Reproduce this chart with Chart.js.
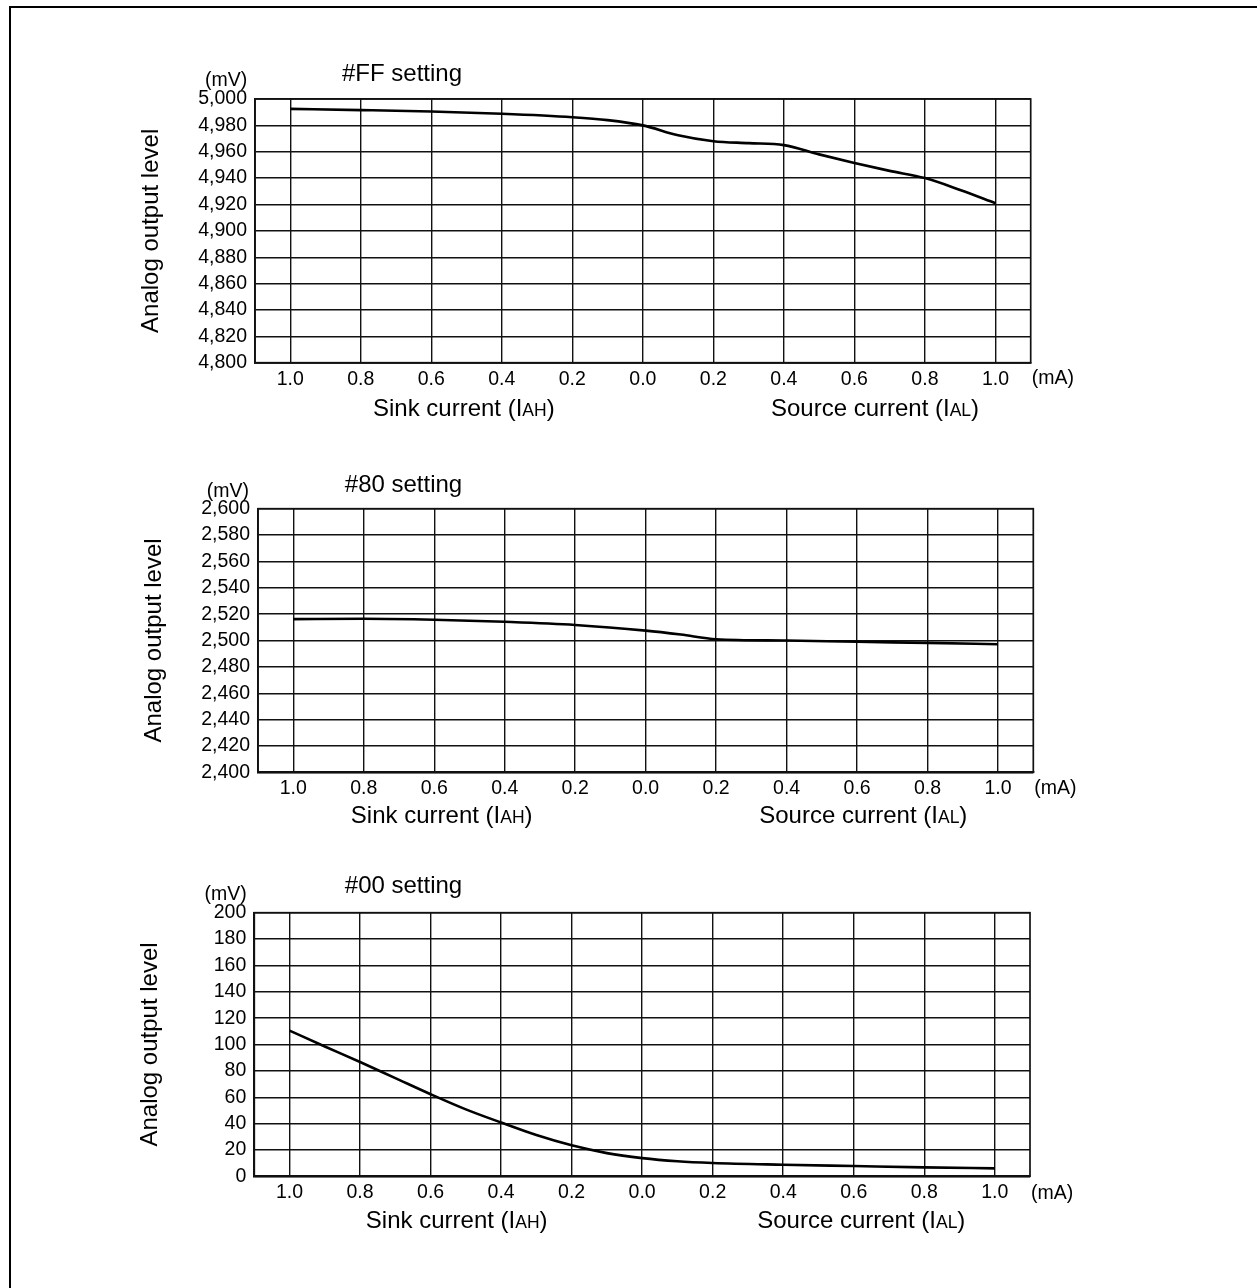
<!DOCTYPE html>
<html>
<head>
<meta charset="utf-8">
<script src="https://cdn.jsdelivr.net/npm/chart.js@4/dist/chart.umd.min.js"></script>
<style>
  html, body { margin:0; padding:0; background:#fff; width:1257px; height:1288px; overflow:hidden; position:relative; }
  #frame { position:absolute; left:9px; top:6px; width:1400px; height:1400px; border-left:2px solid #000; border-top:2px solid #000; box-sizing:border-box; }
  .box { position:absolute; left:0; width:1257px; }
</style>
</head>
<body>
<div id="frame"></div>
<div class="box" style="top:30px;height:420px"><canvas id="c1"></canvas></div>
<div class="box" style="top:440px;height:400px"><canvas id="c2"></canvas></div>
<div class="box" style="top:845px;height:420px"><canvas id="c3"></canvas></div>
<script>
// Current axis: negative = sink current (IAH), positive = source current (IAL), in mA
const xTicks = [-1.0, -0.8, -0.6, -0.4, -0.2, 0.0, 0.2, 0.4, 0.6, 0.8, 1.0];

// #FF setting
const ffCurrent = [-1.0, -0.8, -0.6, -0.4, -0.2, -0.1, 0.0, 0.1, 0.2, 0.3, 0.4, 0.5, 0.6, 0.7, 0.8, 0.9, 1.0];
const ffLevel   = [4992.5, 4991.6, 4990.5, 4988.8, 4986.2, 4984, 4980, 4972.5, 4968, 4966.5, 4965, 4958, 4951.5, 4945.5, 4940, 4931, 4921];
const ffRange   = [4800, 5000];

// #80 setting
const h80Current = [-1.0, -0.8, -0.6, -0.4, -0.2, 0.0, 0.1, 0.2, 0.4, 0.6, 0.8, 1.0];
const h80Level   = [2516.2, 2516.5, 2515.8, 2514.2, 2511.8, 2507.5, 2504.5, 2501, 2500, 2499, 2498.2, 2497.2];
const h80Range   = [2400, 2600];

// #00 setting
const h00Current = [-1.0, -0.9, -0.8, -0.7, -0.6, -0.5, -0.4, -0.3, -0.2, -0.1, 0.0, 0.1, 0.2, 0.4, 0.6, 0.8, 1.0];
const h00Level   = [110.5, 98.5, 86.7, 74.5, 62.3, 50.8, 40.8, 31.3, 23.5, 17.6, 13.8, 11.4, 10.1, 8.8, 7.8, 6.8, 6];
const h00Range   = [0, 200];

const yStep = 20;
const titles = ['#FF setting', '#80 setting', '#00 setting'];
const yAxisName = 'Analog output level';
const sinkName = ['Sink current (I', 'AH', ')'];
const sourceName = ['Source current (I', 'AL', ')'];
const yUnit = '(mV)';
const xUnit = '(mA)';

const FAMILY = "'Liberation Sans', Arial, Helvetica, sans-serif";
Chart.defaults.font.family = FAMILY;
Chart.defaults.color = '#000';
const fnt = s => `${s}px ${FAMILY}`;

function drawParts(ctx, parts, cx, baseline) {
  const sizes = [24, 17.5, 24];
  let widths = parts.map((p, i) => { ctx.font = fnt(sizes[i]); return ctx.measureText(p).width; });
  let total = widths.reduce((a, b) => a + b, 0);
  let x = cx - total / 2;
  ctx.textAlign = 'left';
  parts.forEach((p, i) => { ctx.font = fnt(sizes[i]); ctx.fillText(p, x, baseline); x += widths[i]; });
}

function decor(cfg) {
  return {
    id: 'decor',
    afterDraw(chart) {
      const { ctx, chartArea: a } = chart;
      ctx.save();
      ctx.strokeStyle = '#111';
      ctx.lineWidth = 1.7;
      ctx.strokeRect(a.left, a.top, a.right - a.left, a.bottom - a.top);
      ctx.fillStyle = '#000';
      ctx.textBaseline = 'alphabetic';
      ctx.font = fnt(24);
      ctx.textAlign = 'center';
      ctx.fillText(cfg.title, a.left + cfg.titleDx, a.top + cfg.titleDy);
      ctx.font = fnt(19.5);
      ctx.textAlign = 'right';
      ctx.fillText(yUnit, a.left + cfg.mvDx, a.top + cfg.mvDy);
      ctx.textAlign = 'left';
      ctx.fillText(xUnit, a.right + 1, a.bottom + cfg.maDy);
      drawParts(ctx, sinkName, a.left + cfg.sinkDx, a.bottom + cfg.nameDy);
      drawParts(ctx, sourceName, a.right + cfg.srcDx, a.bottom + cfg.nameDy);
      ctx.restore();
    }
  };
}

function makeChart(id, xs, ys, range, cfg) {
  const grid = { color: '#111', lineWidth: 1.4, drawTicks: false };
  const border = { color: '#111', width: 1.7 };
  new Chart(document.getElementById(id), {
    type: 'line',
    data: {
      datasets: [{
        data: xs.map((x, i) => ({ x: x, y: ys[i] })),
        borderColor: '#000',
        borderWidth: 2.6,
        pointRadius: 0,
        fill: false,
        cubicInterpolationMode: 'monotone'
      }]
    },
    options: {
      responsive: true,
      maintainAspectRatio: false,
      animation: false,
      events: [],
      layout: { padding: cfg.padding },
      plugins: { legend: { display: false }, tooltip: { enabled: false }, title: { display: false } },
      scales: {
        x: {
          type: 'linear', min: -1.1, max: 1.1,
          afterBuildTicks: s => { s.ticks = xTicks.map(v => ({ value: v })); },
          afterFit: s => { s.height = 40; },
          grid: grid, border: border,
          ticks: { color: '#000', font: { size: 19.5 }, padding: 5, maxRotation: 0, autoSkip: false,
                   callback: v => Math.abs(v).toFixed(1) }
        },
        y: {
          min: range[0], max: range[1],
          afterFit: s => { s.width = 120; },
          grid: grid, border: border,
          ticks: { stepSize: yStep, color: '#000', font: { size: 19.5 }, padding: 8, autoSkip: false,
                   callback: v => Number(v).toLocaleString('en-US') },
          title: { display: true, text: yAxisName, color: '#000', font: { size: 24 }, padding: { top: 2, bottom: 0 } }
        }
      }
    },
    plugins: [decor(cfg)]
  });
}

makeChart('c1', ffCurrent, ffLevel, ffRange, {
  title: titles[0],
  padding: { top: 69, bottom: 47.3, left: 135, right: 226.3 },
  titleDx: 147, titleDy: -18.3, mvDx: -7.7, mvDy: -13, maDy: 21.6,
  sinkDx: 208.8, srcDx: -155.7, nameDy: 53.5
});
makeChart('c2', h80Current, h80Level, h80Range, {
  title: titles[1],
  padding: { top: 68.7, bottom: 27.7, left: 138, right: 223.7 },
  titleDx: 145.5, titleDy: -17, mvDx: -9, mvDy: -12, maDy: 22,
  sinkDx: 183.7, srcDx: -170, nameDy: 51
});
makeChart('c3', h00Current, h00Level, h00Range, {
  title: titles[2],
  padding: { top: 67.7, bottom: 48.7, left: 134.3, right: 227 },
  titleDx: 149.2, titleDy: -19.4, mvDx: -7.6, mvDy: -12.7, maDy: 23,
  sinkDx: 202.4, srcDx: -168.7, nameDy: 52
});
</script>
</body>
</html>
